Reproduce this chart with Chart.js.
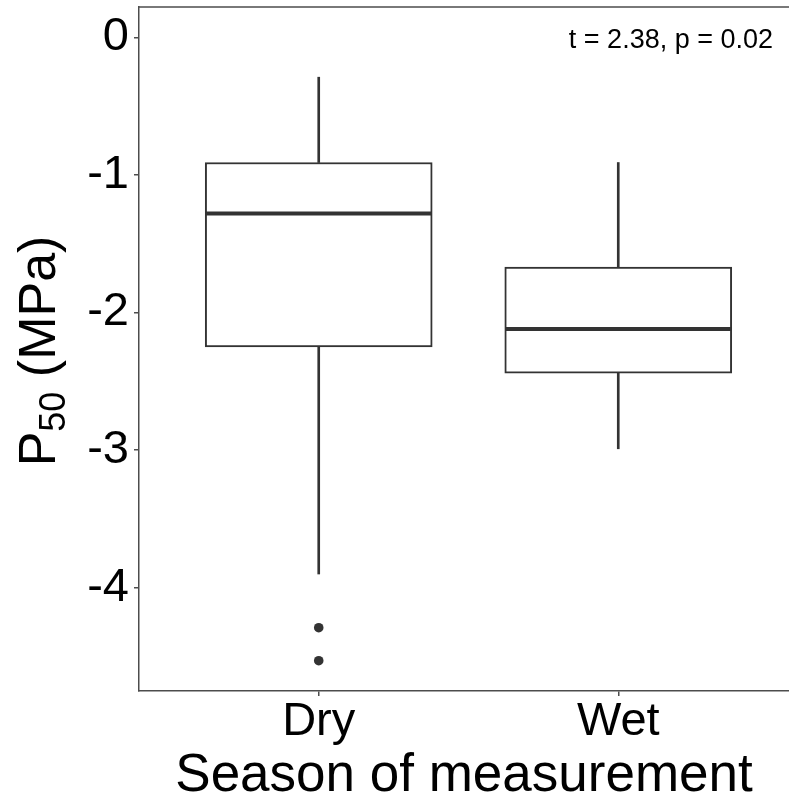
<!DOCTYPE html>
<html>
<head>
<meta charset="utf-8">
<script src="https://cdn.jsdelivr.net/npm/chart.js@4/dist/chart.umd.min.js"></script>
<style>
  html, body { margin: 0; padding: 0; background: #fff; overflow: hidden; }
  #wrap { width: 789px; height: 803px; }
</style>
</head>
<body>
<div id="wrap"><canvas id="boxChart" width="789" height="803"></canvas></div>
<script>
// Box plot summaries (MPa)
const seasons = ['Dry', 'Wet'];
const whiskerHigh = [-0.29, -0.91];
const boxQ3 = [-0.91, -1.67];
const medians = [-1.28, -2.12];
const boxQ1 = [-2.25, -2.44];
const whiskerLow = [-3.90, -2.99];
const outlierSeason = ['Dry', 'Dry'];
const outlierValues = [-4.29, -4.53];
const yTicks = [0, -1, -2, -3, -4];
const statLabel = 't = 2.38, p = 0.02';

const FONT = '"Liberation Sans", Arial, Helvetica, sans-serif';
const INK = '#333333';
const AXIS = '#4d4d4d';

const pos = s => seasons.indexOf(s) + 1;

// draws the top panel border, the stat label and the y title with subscript
const extras = {
  id: 'extras',
  afterDraw(chart) {
    const { ctx, chartArea } = chart;
    ctx.save();
    ctx.strokeStyle = AXIS;
    ctx.lineWidth = 1.5;
    ctx.beginPath();
    ctx.moveTo(chartArea.left, chartArea.top);
    ctx.lineTo(chartArea.right, chartArea.top);
    ctx.stroke();

    ctx.fillStyle = '#000';
    ctx.font = '27px ' + FONT;
    ctx.textAlign = 'right';
    ctx.textBaseline = 'alphabetic';
    ctx.fillText(statLabel, chartArea.right - 16, chartArea.top + 41);

    // y axis title: P_50 (MPa)
    const big = '52px ' + FONT, small = '36px ' + FONT;
    ctx.font = big;
    const wP = ctx.measureText('P').width;
    const wRest = ctx.measureText(' (MPa)').width;
    ctx.font = small;
    const wSub = ctx.measureText('50').width;
    const total = wP + wSub + wRest;
    const cy = (chartArea.top + chartArea.bottom) / 2 + 2;
    ctx.translate(55, cy);
    ctx.rotate(-Math.PI / 2);
    ctx.textAlign = 'left';
    let x = -total / 2;
    ctx.font = big;
    ctx.fillText('P', x, 0);
    x += wP;
    ctx.font = small;
    ctx.fillText('50', x, 10);
    x += wSub;
    ctx.font = big;
    ctx.fillText(' (MPa)', x, 0);
    ctx.restore();
  }
};

const ctx = document.getElementById('boxChart').getContext('2d');
new Chart(ctx, {
  type: 'bar',
  data: {
    datasets: [
      {
        type: 'scatter',
        label: 'Median',
        data: seasons.map((s, i) => ({ x: pos(s), y: medians[i] })),
        pointStyle: 'line',
        radius: 113,
        borderWidth: 4,
        borderColor: INK,
        order: 0
      },
      {
        type: 'scatter',
        label: 'Outliers',
        data: outlierSeason.map((s, i) => ({ x: pos(s), y: outlierValues[i] })),
        pointStyle: 'circle',
        radius: 4.8,
        borderWidth: 0,
        backgroundColor: INK,
        order: 1
      },
      {
        label: 'Box',
        data: seasons.map((s, i) => ({ x: pos(s), y: [boxQ1[i], boxQ3[i]] })),
        backgroundColor: '#ffffff',
        borderColor: INK,
        borderWidth: 2,
        borderSkipped: false,
        barThickness: 227,
        grouped: false,
        order: 2
      },
      {
        label: 'Upper whisker',
        data: seasons.map((s, i) => ({ x: pos(s), y: [boxQ3[i], whiskerHigh[i]] })),
        backgroundColor: INK,
        borderWidth: 0,
        barThickness: 2,
        grouped: false,
        order: 3
      },
      {
        label: 'Lower whisker',
        data: seasons.map((s, i) => ({ x: pos(s), y: [whiskerLow[i], boxQ1[i]] })),
        backgroundColor: INK,
        borderWidth: 0,
        barThickness: 2,
        grouped: false,
        order: 4
      }
    ]
  },
  options: {
    responsive: false,
    animation: false,
    events: [],
    layout: { autoPadding: false, padding: { top: 7, left: 0, right: 0, bottom: 0 } },
    plugins: {
      legend: { display: false },
      tooltip: { enabled: false }
    },
    scales: {
      x: {
        type: 'linear',
        offset: false,
        min: 0.4,
        max: 2.57,
        afterBuildTicks: scale => { scale.ticks = seasons.map((s, i) => ({ value: i + 1 })); },
        afterFit: scale => {
          scale.height = 112;
          scale.paddingLeft = 0;
          scale.paddingRight = 0;
        },
        ticks: {
          callback: v => seasons[v - 1],
          color: '#000',
          font: { family: FONT, size: 47, lineHeight: 1 },
          padding: 3,
          maxRotation: 0,
          autoSkip: false
        },
        grid: { offset: false, drawOnChartArea: false, drawTicks: true, tickLength: 5, color: AXIS, lineWidth: 1.5 },
        border: { display: true, color: AXIS, width: 1.5 },
        title: {
          display: true,
          text: 'Season of measurement',
          color: '#000',
          font: { family: FONT, size: 53, lineHeight: 1 },
          padding: { top: 0, bottom: 0 }
        }
      },
      y: {
        type: 'linear',
        min: -4.75,
        max: 0.22,
        afterBuildTicks: scale => { scale.ticks = yTicks.map(v => ({ value: v })); },
        afterFit: scale => {
          scale.width = 139;
          scale.paddingTop = 0;
          scale.paddingBottom = 0;
        },
        ticks: {
          color: '#000',
          font: { family: FONT, size: 47, lineHeight: 1 },
          padding: 5
        },
        grid: { drawOnChartArea: false, drawTicks: true, tickLength: 5, color: AXIS, lineWidth: 1.5 },
        border: { display: true, color: AXIS, width: 1.5 }
      }
    }
  },
  plugins: [extras]
});
</script>
</body>
</html>
